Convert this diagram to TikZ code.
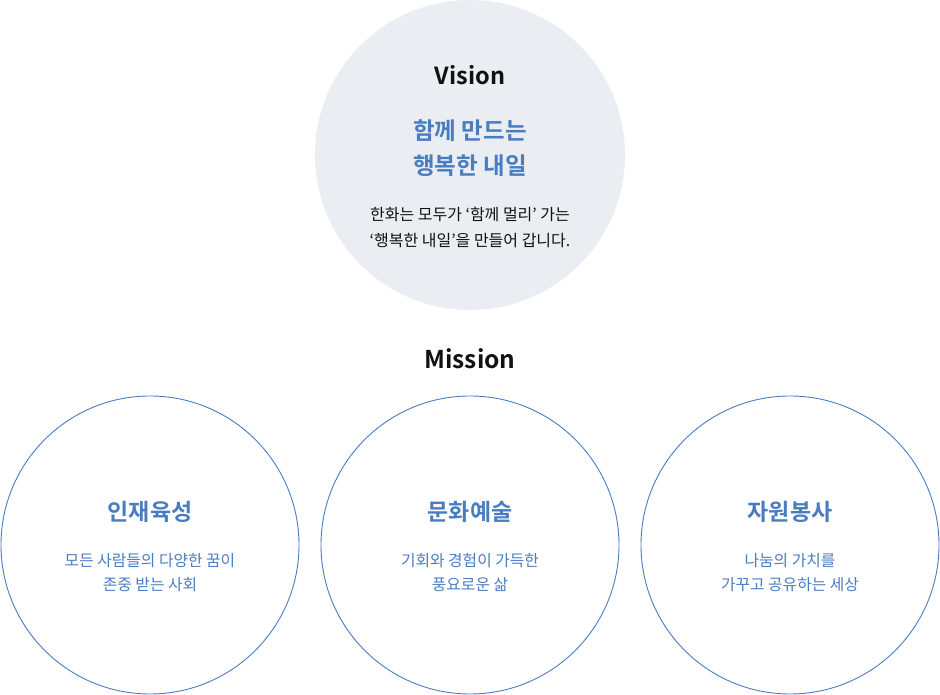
\documentclass[tikz,border=0pt]{standalone}
\usepackage{fontspec}
\setmainfont{Noto Sans CJK KR}[BoldFont={* Bold}]
\definecolor{hblue}{HTML}{4A7DC0}
\definecolor{hfill}{HTML}{EAEEF3}
\definecolor{htext}{HTML}{111111}
\tikzset{
  visioncircle/.style={circle, fill=hfill, draw=none, minimum size=310pt, inner sep=0pt},
  missioncircle/.style={circle, draw=hblue, line width=0.9pt, minimum size=298pt, inner sep=0pt},
  headtext/.style={font=\fontsize{23.5}{26}\selectfont\bfseries, text=htext, inner sep=0pt},
  bluehead/.style={font=\fontsize{23.5}{35}\selectfont\bfseries, text=hblue, align=center, inner sep=0pt},
  bodytext/.style={font=\fontsize{16}{26}\selectfont, text=htext, align=center, inner sep=0pt},
  mtitle/.style={font=\fontsize{23}{26}\selectfont\bfseries, text=hblue, inner sep=0pt},
  msub/.style={font=\fontsize{15.8}{24}\selectfont, text=hblue, align=center, inner sep=0pt},
}
\begin{document}
\begin{tikzpicture}[x=1pt,y=1pt]
\useasboundingbox (0,0) rectangle (940,695);
% Vision
\node[visioncircle] (vc) at (470,540) {};
\node[headtext] (vision) at (470,620) {Vision};
\node[bluehead] (vhead) at (470,547) {함께 만드는\\행복한 내일};
\node[bodytext] (vbody) at (470,468) {한화는 모두가 ‘함께 멀리’ 가는\\‘행복한 내일’을 만들어 갑니다.};
% Mission
\node[headtext, font=\fontsize{24.5}{26}\selectfont\bfseries] (mission) at (470,336) {Mission};
\node[missioncircle] (m1) at (150,150) {};
\node[missioncircle] (m2) at (470,150) {};
\node[missioncircle] (m3) at (790,150) {};
\node[mtitle] (t1) at (150,183) {인재육성};
\node[mtitle] (t2) at (470,183) {문화예술};
\node[mtitle] (t3) at (790,183) {자원봉사};
\node[msub] (s1) at (150,122) {모든 사람들의 다양한 꿈이\\존중 받는 사회};
\node[msub] (s2) at (470,122) {기회와 경험이 가득한\\풍요로운 삶};
\node[msub] (s3) at (790,122) {나눔의 가치를\\가꾸고 공유하는 세상};
\end{tikzpicture}
\end{document}
